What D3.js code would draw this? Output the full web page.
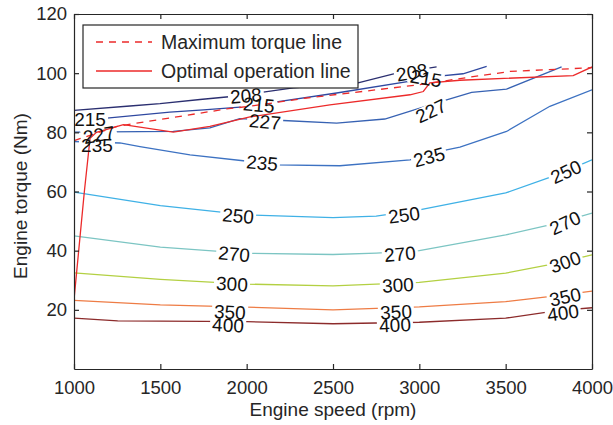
<!DOCTYPE html>
<html>
<head>
<meta charset="utf-8">
<script src="https://cdn.jsdelivr.net/npm/d3@7"></script>
<style>
  body { margin: 0; background: #fff; }
  text { font-family: "Liberation Sans", Arial, Helvetica, sans-serif; fill: #262626; }
</style>
</head>
<body>
<div id="chart"></div>
<script>
// contour levels (g/kWh) and their lines [rpm, torque]
var levels = [208, 215, 227, 235, 250, 270, 300, 350, 400];
var levelColors = ["#2b2f70", "#2f48a0", "#3762b3", "#3d72c2", "#3fb1e6", "#7cc5c3", "#b3d042", "#ee7c45", "#8c2b2b"];

var c208 = [[1000,87.4],[1324,88.9],[1498,89.7],[1730,91.1],[2019,92.7],[2096,93.6],[2270,95],[2645,96.7],[2868,100],[3100,102.1]];
var c215 = [[1000,84.3],[1190,84.8],[1555,86.8],[1750,87.6],[2019,88.8],[2154,90.1],[2521,93.3],[3003,97.8],[3100,98.9],[3253,99.8],[3390,102.3]];
var c227 = [[1000,80.1],[1575,80.3],[1787,81.5],[1960,84.6],[2212,84.0],[2521,83.1],[2800,84.5],[3003,88.2],[3158,91],[3303,93.5],[3505,94.6],[3824,102.1]];
var c235 = [[1000,76.9],[1266,76.4],[1382,75.2],[1672,72.4],[1980,70.4],[2174,69],[2540,68.7],[2946,70.7],[3158,74.1],[3235,75],[3505,80.3],[3756,88.8],[4000,94.4]];
var c250 = [[1000,59.8],[1500,55.2],[2000,52.1],[2500,51.2],[2750,51.7],[3000,53.8],[3500,59.5],[3800,65.7],[4000,70.7]];
var c270 = [[1000,45],[1500,41.2],[2000,39.1],[2500,38.7],[2750,39.2],[3000,40],[3500,45.3],[3800,49.3],[4000,52.7]];
var c300 = [[1000,32.5],[1500,30.3],[2000,28.7],[2500,28.1],[2750,28.7],[3000,29.3],[3500,32.4],[3800,35.8],[4000,38.6]];
var c350 = [[1000,23.2],[1500,21.7],[2000,20.9],[2500,20],[3000,21],[3500,22.8],[3800,24.8],[4000,26.3]];
var c400 = [[1000,17.2],[1253,16.3],[2000,16],[2500,15.3],[3000,15.8],[3500,17.2],[3800,19.7],[4000,20.7]];
var contourLines = [c208, c215, c227, c235, c250, c270, c300, c350, c400];

// inline contour labels [rpm, torque, angle]
var labels208 = [[1996,92.4,-5],[2957,100.3,-10]];
var labels215 = [[1093,84.3,0],[2071,89.3,5],[3039,98.3,10]];
var labels227 = [[1145,79.2,-10],[2106,83.6,5],[3067,87.3,-25]];
var labels235 = [[1133,75.8,0],[2089,69.7,5],[3056,71.7,-15]];
var labels250 = [[1950,51.8,5],[2911,52.1,-8],[3849,66.7,-25]];
var labels270 = [[1927,38.9,5],[2888,38.9,-5],[3844,49.4,-25]];
var labels300 = [[1915,28.8,3],[2876,28.4,-3],[3844,36.2,-20]];
var labels350 = [[1903,19.3,3],[2865,19.3,-3],[3844,24.4,-12]];
var labels400 = [[1892,14.9,3],[2859,14.9,-3],[3832,19,-8]];
var contourLabels = [labels208, labels215, labels227, labels235, labels250, labels270, labels300, labels350, labels400];

var maxTorque = [[1000,77.2],[1250,82],[1363,83.1],[1884,87.9],[2019,88.8],[2347,91.6],[3003,96.1],[3216,98],[3525,100.6],[3988,101.8],[4000,101.9]];
var optimalLine = [[1000,23.4],[1060,60],[1093,78],[1130,80],[1286,82.6],[1575,80.1],[1787,82],[2019,85.2],[2482,89.3],[2946,92.7],[3023,93.8],[3061,96.7],[3235,97.6],[3891,99.2],[4000,102.1]];

var xTicks = [1000, 1500, 2000, 2500, 3000, 3500, 4000];
var yTicks = [20, 40, 60, 80, 100, 120];
var legendItems = ["Maximum torque line", "Optimal operation line"];

var width = 613, height = 425,
  margins = {top: 14, left: 74, right: 21, bottom: 56},
  innerW = width - margins.left - margins.right,
  innerH = height - margins.top - margins.bottom;

var x = d3.scaleLinear().domain([1000, 4000]).range([0, innerW]);
var y = d3.scaleLinear().domain([0, 120]).range([innerH, 0]);

var svg = d3.select("#chart").append("svg")
  .attr("width", width)
  .attr("height", height);

var defs = svg.append("defs");
defs.append("clipPath").attr("id", "body-clip")
  .append("rect").attr("width", innerW).attr("height", innerH);

var g = svg.append("g")
  .attr("transform", "translate(" + margins.left + "," + margins.top + ")");

var line = d3.line()
  .x(function (d) { return x(d[0]); })
  .y(function (d) { return y(d[1]); });

// masks cut gaps where the labels sit
contourLabels.forEach(function (list, i) {
  var m = defs.append("mask").attr("id", "gap" + i)
    .attr("maskUnits", "userSpaceOnUse")
    .attr("x", -10).attr("y", -10).attr("width", innerW + 20).attr("height", innerH + 20);
  m.append("rect").attr("x", -10).attr("y", -10)
    .attr("width", innerW + 20).attr("height", innerH + 20).attr("fill", "#fff");
  list.forEach(function (d) {
    m.append("rect")
      .attr("x", -18).attr("y", -7).attr("width", 36).attr("height", 14)
      .attr("fill", "#000")
      .attr("transform", "translate(" + x(d[0]) + "," + y(d[1]) + ") rotate(" + d[2] + ")");
  });
});

var body = g.append("g").attr("clip-path", "url(#body-clip)");

contourLines.forEach(function (list, i) {
  body.append("g").attr("mask", "url(#gap" + i + ")")
    .append("path")
    .datum(list)
    .attr("d", line)
    .attr("fill", "none")
    .attr("stroke", levelColors[i])
    .attr("stroke-width", 1.3);
});

contourLabels.forEach(function (list, i) {
  g.selectAll("text.lab" + i)
    .data(list)
    .enter().append("text")
    .attr("class", "lab" + i)
    .attr("transform", function (d) { return "translate(" + x(d[0]) + "," + y(d[1]) + ") rotate(" + d[2] + ")"; })
    .attr("text-anchor", "middle")
    .attr("dy", "0.36em")
    .style("font-size", "19px")
    .style("fill", "#111")
    .text(levels[i]);
});

body.append("path").datum(maxTorque)
  .attr("d", line)
  .attr("fill", "none")
  .attr("stroke", "#ec2a2a")
  .attr("stroke-width", 1.3)
  .attr("stroke-dasharray", "7,6");

body.append("path").datum(optimalLine)
  .attr("d", line)
  .attr("fill", "none")
  .attr("stroke", "#ec2a2a")
  .attr("stroke-width", 1.3);

// axes, ticks inward on all four sides
function styleAxis(sel) {
  sel.select(".domain").attr("stroke", "#262626").attr("stroke-width", 1.2);
  sel.selectAll(".tick line").attr("stroke", "#262626").attr("stroke-width", 1.2);
  sel.selectAll(".tick text").style("font-size", "18.5px").style("fill", "#262626").attr("font-family", null);
}

g.append("g").attr("transform", "translate(0," + innerH + ")")
  .call(d3.axisBottom(x).tickValues(xTicks).tickFormat(d3.format("d")).tickSizeInner(-5).tickSizeOuter(0).tickPadding(12))
  .call(styleAxis);
g.append("g").attr("transform", "translate(0,0)")
  .call(d3.axisTop(x).tickValues(xTicks).tickSizeInner(-5).tickSizeOuter(0).tickFormat(""))
  .call(styleAxis);
g.append("g")
  .call(d3.axisLeft(y).tickValues(yTicks).tickFormat(d3.format("d")).tickSizeInner(-5).tickSizeOuter(0).tickPadding(7))
  .call(styleAxis);
g.append("g").attr("transform", "translate(" + innerW + ",0)")
  .call(d3.axisRight(y).tickValues(yTicks).tickSizeInner(-5).tickSizeOuter(0).tickFormat(""))
  .call(styleAxis);

// axis titles
svg.append("text")
  .attr("x", margins.left + innerW / 2).attr("y", 416)
  .attr("text-anchor", "middle")
  .style("font-size", "19px")
  .text("Engine speed (rpm)");
svg.append("text")
  .attr("transform", "translate(27,196) rotate(-90)")
  .attr("text-anchor", "middle")
  .style("font-size", "19px")
  .text("Engine torque (Nm)");

// legend
var legend = g.append("g").attr("transform", "translate(9,11)");
legend.append("rect")
  .attr("width", 275).attr("height", 63)
  .attr("fill", "#fff").attr("stroke", "#262626").attr("stroke-width", 1.2);
legendItems.forEach(function (name, i) {
  var ly = 17 + i * 29;
  legend.append("line")
    .attr("x1", 13).attr("x2", 69).attr("y1", ly).attr("y2", ly)
    .attr("stroke", "#ec2a2a").attr("stroke-width", 1.3)
    .attr("stroke-dasharray", i == 0 ? "7,6" : null);
  legend.append("text")
    .attr("x", 78).attr("y", ly).attr("dy", "0.35em")
    .style("font-size", "19.5px")
    .text(name);
});
</script>
</body>
</html>
